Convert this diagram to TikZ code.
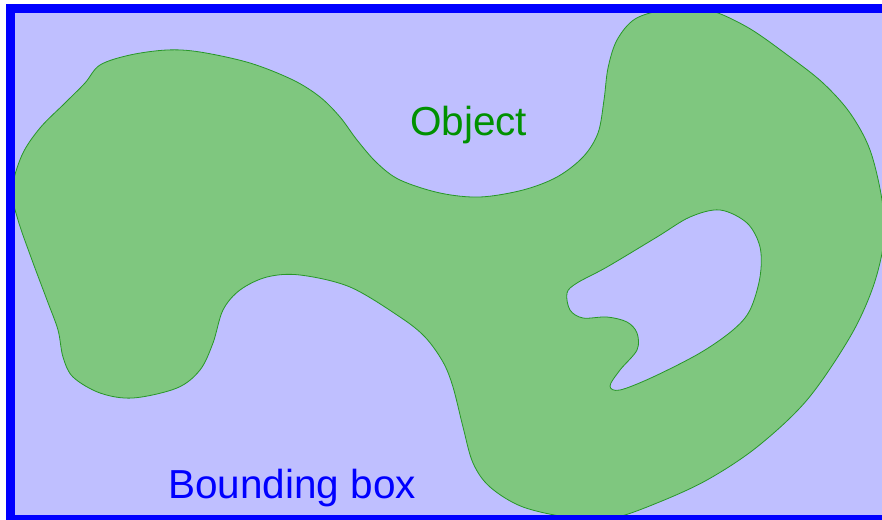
\documentclass[tikz,border=0pt]{standalone}
\usepackage{fontspec}
\setmainfont{Liberation Sans}
\definecolor{boxfill}{RGB}{191,191,255}
\definecolor{objfill}{RGB}{127,199,127}
\definecolor{objline}{RGB}{40,150,40}
\definecolor{objtext}{RGB}{0,145,0}
\tikzset{
  objshape/.style={fill=objfill, draw=objline, line width=0.8pt, even odd rule},
  boxframe/.style={draw=blue, line width=9pt},
  lbl/.style={font=\fontsize{40.5}{48}\selectfont, inner sep=0pt, anchor=base west}
}
\begin{document}
\begin{tikzpicture}[x=1pt, y=-1pt]
  \useasboundingbox (0,0) rectangle (882,519);
  % inside of the bounding box
  \fill[boxfill] (10,9) rectangle (900,519);
  % the object: outer outline with one hole
  \path[objshape]
    plot[smooth cycle, tension=0.55] coordinates {
      (100,65) (130,55) (167,50) (200,52) (250,63) (293,80) (320,97)
      (340,117) (357,140) (377,163) (400,180) (440,193) (480,197)
      (523,190) (557,177) (583,157) (598,133) (604,100) (608,68)
      (617,40) (635,19) (665,10) (705,9) (747,27) (790,57) (823,83)
      (850,113) (870,150) (882,200) (884,240) (873,287) (850,337)
      (807,400) (757,447) (707,480) (657,503) (613,518) (573,518)
      (523,507) (490,487) (473,463) (463,427) (453,387) (443,362)
      (425,337) (400,317) (350,287) (300,275) (267,277) (240,290)
      (223,310) (213,343) (200,370) (177,388) (133,398) (100,393)
      (73,377) (63,357) (58,330) (47,300) (32,260) (18,220) (12,190)
      (22,155) (40,128) (65,103) (85,83)}
    plot[smooth cycle, tension=0.55] coordinates {
      (720,210) (747,223) (760,247) (760,277) (750,310) (733,330)
      (700,353) (653,377) (620,390) (610,386) (620,370) (637,350)
      (637,333) (627,322) (607,317) (583,318) (570,310) (567,293)
      (577,283) (607,267) (657,237) (690,217)};
  % frame of the bounding box
  \draw[boxframe] (900,519) -- (10,519) -- (10,9) -- (900,9);
  % labels
  \node[lbl, text=objtext] (obj) at (410,135) {Object};
  \node[lbl, text=blue] (bbox) at (168,498) {Bounding box};
\end{tikzpicture}
\end{document}
